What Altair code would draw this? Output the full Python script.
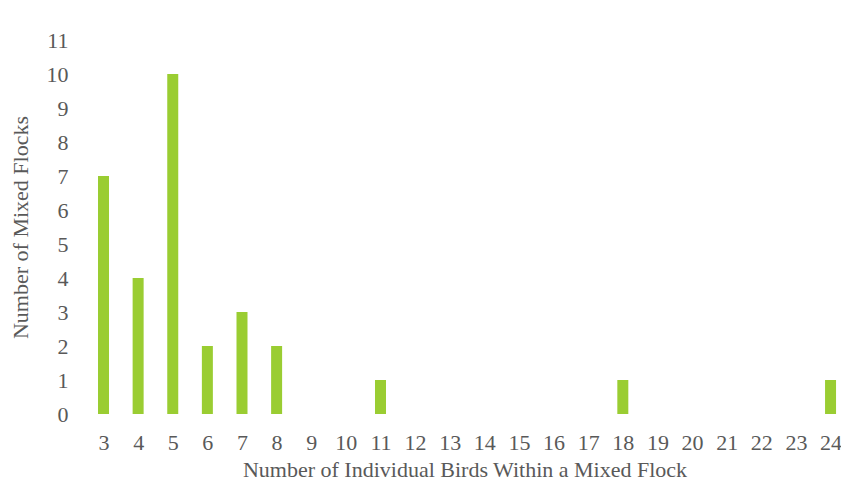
import altair as alt
import pandas as pd

birds = list(range(3, 25))
flocks = [7, 4, 10, 2, 3, 2, 0, 0, 1, 0, 0, 0, 0, 0, 0, 1, 0, 0, 0, 0, 0, 1]

df = pd.DataFrame({"birds": birds, "flocks": flocks})
df = df[df["flocks"] > 0]

FONT = "Liberation Serif"
GRAY = "#595959"

chart = alt.Chart(df).mark_bar(color="#9ACD32", width=11).encode(
    x=alt.X("birds:Q",
            scale=alt.Scale(domain=[2.552, 24.302], nice=False, zero=False, padding=0),
            axis=alt.Axis(values=birds, title="Number of Individual Birds Within a Mixed Flock",
                          grid=False, domain=False, ticks=False, labelPadding=18,
                          labelFontSize=22, titleFontSize=22, titlePadding=6,
                          labelFont=FONT, titleFont=FONT, labelColor=GRAY, titleColor=GRAY,
                          titleFontWeight="normal", labelFlush=False, labelOverlap=False)),
    y=alt.Y("flocks:Q",
            scale=alt.Scale(domain=[0, 11], nice=False, padding=0),
            axis=alt.Axis(values=list(range(0, 12)), title="Number of Mixed Flocks",
                          grid=False, domain=False, ticks=False, labelPadding=20,
                          labelFontSize=22, titleFontSize=22, titlePadding=14,
                          labelFont=FONT, titleFont=FONT, labelColor=GRAY, titleColor=GRAY,
                          titleFontWeight="normal", labelOverlap=False)),
).properties(
    width=753, height=374,
    autosize=alt.AutoSizeParams(type="none"),
    padding={"left": 80, "top": 32, "right": 0, "bottom": 69},
).configure_view(stroke=None)

chart.save("out.html", embed_options={"renderer": "svg", "actions": False})
